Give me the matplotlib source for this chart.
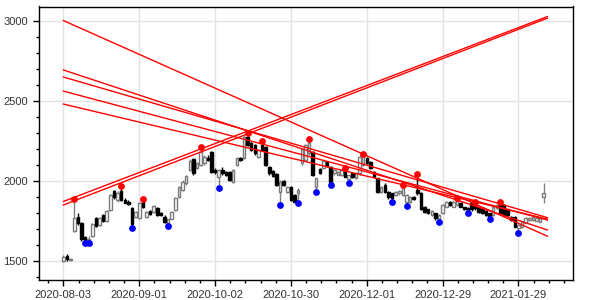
import matplotlib
matplotlib.use("Agg")
import matplotlib.pyplot as plt
from matplotlib.ticker import MultipleLocator, FixedLocator
import numpy as np

opens = [1500,1532,1503,1690,1778,1740,1648,1628,1657,1767,1725,1788,1752,1820,1935,1880,1935,1880,1870,1830,
         1777,1766,1875,1778,1815,1808,1829,1800,1777,1735,1765,1819,1902,1944,1985,2068,2135,2079,2100,2110,
         2142,2183,2070,2027,2069,2058,2058,1996,2100,2141,2141,2277,2235,2225,2152,2225,2214,2089,2060,2044,
         1933,2000,1933,1964,1912,1927,2110,2131,2173,2183,1964,2073,2079,2121,2089,2048,2040,2037,2069,2010,
         2048,2016,2048,2100,2141,2121,2058,2016,1933,1975,1930,1923,1913,1923,1913,1871,1871,1902,1944,1923,
         1840,1823,1788,1798,1760,1798,1840,1871,1840,1850,1860,1835,1830,1860,1865,1840,1823,1815,1798,1788,
         1829,1860,1850,1823,1777,1777,1704,1711,1740,1756,1756,1752,1746,1902]
highs = [1535,1545,1518,1887,1800,1745,1655,1655,1738,1775,1772,1795,1820,1918,1945,1935,1969,1895,1880,1840,
         1815,1870,1889,1812,1820,1850,1840,1808,1785,1765,1815,1898,1970,2005,2040,2135,2145,2118,2210,2165,
         2160,2190,2080,2075,2085,2065,2062,2075,2150,2150,2285,2298,2245,2230,2200,2252,2220,2095,2066,2050,
         2005,2008,1970,1970,1918,1955,2205,2232,2261,2190,2020,2080,2132,2126,2095,2072,2062,2072,2079,2040,
         2055,2055,2160,2169,2148,2126,2062,2020,1970,1985,1935,1928,1938,1945,1975,1918,1906,1908,2044,1930,
         1845,1828,1820,1803,1795,1855,1876,1876,1880,1892,1866,1840,1835,1866,1871,1846,1828,1820,1803,1846,
         1856,1867,1856,1828,1782,1782,1730,1750,1772,1776,1782,1776,1772,1986]
lows = [1495,1502,1499,1683,1728,1627,1615,1615,1650,1710,1718,1742,1746,1815,1890,1870,1875,1860,1850,1706,
        1770,1760,1832,1770,1788,1800,1780,1782,1740,1719,1760,1812,1895,1938,1978,2060,2040,2072,2092,2100,
        2125,2050,2045,1954,2040,2030,2000,1990,2095,2125,2135,2220,2185,2165,2145,2185,2095,2040,2025,1970,
        1850,1968,1925,1875,1868,1864,2100,2125,2165,2030,1933,2045,2075,2090,1975,2040,2035,2030,2022,1989,
        2020,2010,2040,2092,2105,2075,2022,1928,1928,1925,1890,1871,1905,1915,1905,1844,1865,1880,1915,1818,
        1800,1795,1782,1755,1742,1792,1835,1845,1835,1845,1835,1820,1798,1815,1820,1802,1792,1783,1761,1783,
        1824,1792,1783,1782,1750,1710,1677,1705,1735,1750,1750,1747,1741,1861]
closes = [1525,1512,1515,1770,1738,1637,1630,1640,1730,1717,1767,1748,1812,1912,1900,1925,1880,1865,1858,1730,
          1809,1864,1838,1805,1795,1843,1788,1790,1746,1760,1805,1891,1964,1996,2031,2127,2048,2110,2183,2152,
          2130,2058,2055,2069,2048,2040,2006,2069,2141,2131,2277,2225,2194,2173,2194,2194,2100,2048,2030,1975,
          1996,1975,1964,1881,1871,1944,2198,2225,2235,2037,2016,2052,2127,2094,1996,2069,2058,2069,2027,2037,
          2027,2048,2152,2156,2110,2079,2027,1933,1964,1934,1900,1892,1934,1940,1954,1913,1902,1886,1923,1823,
          1808,1802,1815,1767,1790,1850,1871,1850,1871,1875,1840,1825,1815,1825,1830,1808,1798,1788,1777,1840,
          1850,1798,1788,1788,1756,1715,1725,1746,1767,1771,1777,1771,1767,1923]

tick_labels = ['2020-08-03', '2020-09-01', '2020-10-02', '2020-10-30',
               '2020-12-01', '2020-12-29', '2021-01-29']
tick_every = 21

peak_idx = [3, 16, 22, 38, 51, 55, 68, 78, 83, 94, 98, 109, 114, 121]
trough_idx = [6, 7, 19, 29, 43, 60, 65, 70, 74, 79, 91, 95, 104, 112, 118, 126]

# trend lines: value at first bar and value at line end
line_start = [1872, 1850, 3003, 2694, 2650, 2562, 2481]
line_end = [3028, 3018, 1655, 1694, 1771, 1756, 1762]

n = len(opens)
x = np.arange(n)
o = np.array(opens); h = np.array(highs); l = np.array(lows); c = np.array(closes)

plt.rcParams['font.family'] = ['Liberation Sans', 'DejaVu Sans']
fig = plt.figure(figsize=(6, 3), dpi=100)
ax = fig.add_axes([38.5/600, 20/300, (573-38.5)/600, (280-6.5)/300])

up = c >= o
down = ~up
# wicks
ax.vlines(x[up], l[up], h[up], color='#808080', lw=1.0, zorder=2)
ax.vlines(x[down], l[down], h[down], color='black', lw=1.0, zorder=2)
# bodies
w = 0.7
ax.bar(x[up], c[up]-o[up], bottom=o[up], width=w, color='white', edgecolor='#7a7a7a', lw=1.0, zorder=3)
ax.bar(x[down], o[down]-c[down], bottom=c[down], width=w, color='black', edgecolor='black', lw=1.0, zorder=3)

# trend lines
x_end = n
for s, e in zip(line_start, line_end):
    ax.plot([0, x_end], [s, e], color='red', lw=1.0, zorder=4)

ax.scatter(peak_idx, h[peak_idx], s=24, color='red', zorder=5, linewidths=0)
ax.scatter(trough_idx, l[trough_idx], s=24, color='blue', zorder=5, linewidths=0)

ax.set_xlim(-6.9, 141.1)
ax.set_ylim(1381, 3091)
ax.xaxis.set_major_locator(FixedLocator([i*tick_every for i in range(len(tick_labels))]))
ax.set_xticklabels(tick_labels)
ax.xaxis.set_minor_locator(MultipleLocator(tick_every/5))
ax.yaxis.set_major_locator(MultipleLocator(500))
ax.yaxis.set_minor_locator(MultipleLocator(100))
ax.grid(True, which='major', color='#e3e3e3', lw=1.0, zorder=0)
ax.set_axisbelow(True)
ax.tick_params(which='major', direction='out', length=4, width=1, labelsize=8, labelcolor='#333333', color='black')
ax.tick_params(which='minor', direction='out', length=2.5, width=1, color='black')
for sp in ax.spines.values():
    sp.set_color('black'); sp.set_linewidth(1.0)

fig.savefig('out.png', dpi=100)
